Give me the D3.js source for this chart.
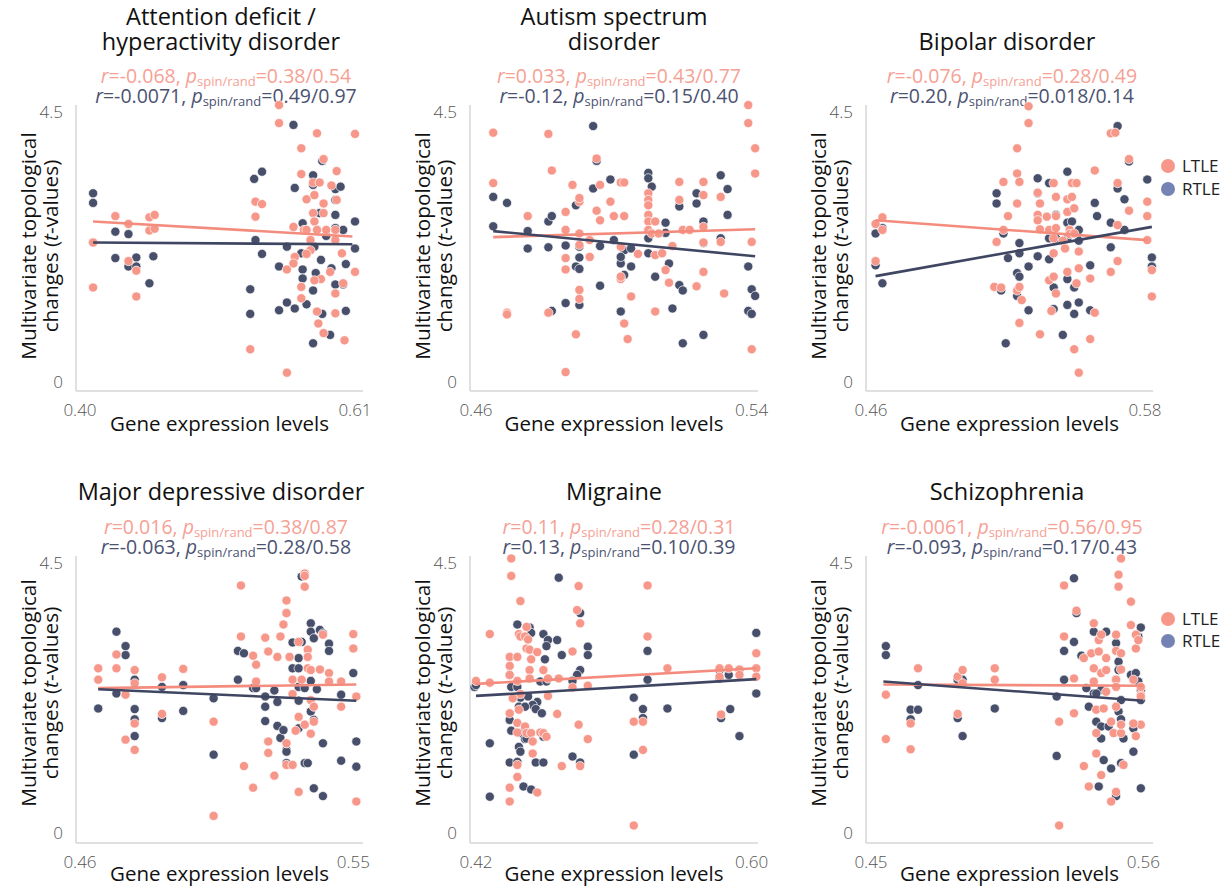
<!DOCTYPE html>
<html><head><meta charset="utf-8">
<script src="https://cdn.jsdelivr.net/npm/d3@7"></script>
<style>
body{margin:0;background:#fff}
svg{display:block}
text{font-family:'Open Sans','Noto Sans',sans-serif}
</style>
</head><body>
<svg id="chart" width="1228" height="888"></svg>
<script>
// ---------------- DATA ----------------
const titles = [
  ["Attention deficit /", "hyperactivity disorder"],
  ["Autism spectrum", "disorder"],
  ["Bipolar disorder"],
  ["Major depressive disorder"],
  ["Migraine"],
  ["Schizophrenia"]
];
const xTickLabels = [["0.40","0.61"],["0.46","0.54"],["0.46","0.58"],["0.46","0.55"],["0.42","0.60"],["0.45","0.56"]];
const xTickValues = [[0.40,0.61],[0.46,0.54],[0.46,0.58],[0.46,0.55],[0.42,0.60],[0.45,0.56]];
const yTickValues = [0, 4.5];
const yTickLabels = ["0", "4.5"];
const seriesNames = ["LTLE", "RTLE"];

const rLTLE = ["-0.068", "0.033", "-0.076", "0.016", "0.11", "-0.0061"];
const pLTLE = ["0.38/0.54", "0.43/0.77", "0.28/0.49", "0.38/0.87", "0.28/0.31", "0.56/0.95"];
const rRTLE = ["-0.0071", "-0.12", "0.20", "-0.063", "0.13", "-0.093"];
const pRTLE = ["0.49/0.97", "0.15/0.40", "0.018/0.14", "0.28/0.58", "0.10/0.39", "0.17/0.43"];

// fitted regression lines [x0,y0],[x1,y1]
const fitLTLE = [
  [[0.410,2.67],[0.608,2.42]],
  [[0.465,2.41],[0.541,2.54]],
  [[0.462,2.69],[0.581,2.36]],
  [[0.466,2.42],[0.551,2.48]],
  [[0.420,2.49],[0.603,2.75]],
  [[0.455,2.48],[0.560,2.46]]
];
const fitRTLE = [
  [[0.410,2.32],[0.608,2.29]],
  [[0.465,2.51],[0.541,2.09]],
  [[0.462,1.76],[0.583,2.58]],
  [[0.466,2.40],[0.551,2.21]],
  [[0.420,2.29],[0.603,2.57]],
  [[0.455,2.53],[0.560,2.21]]
];

const adhdLTLE = [[0.410,2.32],[0.410,1.57],[0.427,2.76],[0.437,2.63],[0.437,2.01],[0.443,1.85],[0.443,1.42],[0.453,2.74],[0.457,2.78],[0.453,2.52],[0.457,2.55],
[0.552,4.61],[0.552,4.31],[0.569,3.89],[0.581,4.14],[0.586,3.71],[0.596,3.51],[0.610,4.13],[0.534,3.00],[0.539,2.96],[0.534,2.75],[0.569,3.46],[0.573,3.04],[0.578,3.32],[0.583,3.32],[0.579,3.11],[0.586,2.97],[0.586,2.81],[0.592,3.27],[0.596,3.03],[0.578,2.81],[0.579,2.67],[0.571,2.53],[0.573,2.53],[0.581,2.53],[0.563,2.58],[0.588,2.53],[0.595,2.53],[0.564,2.08],[0.563,1.97],[0.569,1.58],[0.569,1.39],[0.576,2.19],[0.573,2.13],[0.584,1.71],[0.591,1.83],[0.600,2.14],[0.610,1.83],[0.601,1.64],[0.595,1.47],[0.581,1.17],[0.595,1.14],[0.582,0.97],[0.586,0.81],[0.602,0.69],[0.530,0.54],[0.558,0.15],[0.558,1.87],[0.579,1.69],[0.576,2.36],[0.595,2.36]];
const adhdRTLE = [[0.410,3.14],[0.410,2.98],[0.427,2.50],[0.437,2.46],[0.427,2.06],[0.437,1.92],[0.443,2.07],[0.443,1.92],[0.456,2.09],[0.453,1.64],[0.410,2.32],
[0.533,3.38],[0.539,3.50],[0.534,2.36],[0.539,2.13],[0.530,1.54],[0.530,1.13],[0.552,1.92],[0.564,3.23],[0.563,4.28],[0.552,1.19],[0.558,1.32],[0.564,1.22],[0.570,2.64],[0.573,1.29],[0.569,2.14],[0.570,1.87],[0.570,1.72],[0.578,3.44],[0.578,3.28],[0.579,2.25],[0.578,1.52],[0.578,0.64],[0.584,2.03],[0.580,1.81],[0.585,3.68],[0.591,0.78],[0.592,1.89],[0.595,3.21],[0.599,3.25],[0.595,3.03],[0.595,2.78],[0.595,2.56],[0.601,2.53],[0.603,1.96],[0.603,1.18],[0.610,2.67],[0.610,2.22],[0.601,1.62],[0.595,1.62],[0.558,2.25],[0.585,1.13],[0.588,2.43],[0.581,2.53],[0.583,2.81]];

const asdLTLE = [[0.465,4.15],[0.465,3.31],[0.469,1.15],[0.469,1.12],[0.475,2.76],[0.481,4.13],[0.482,3.52],[0.481,1.15],[0.486,2.83],[0.486,2.53],[0.486,2.06],[0.486,1.87],[0.488,3.28],[0.490,3.00],[0.490,3.06],[0.490,2.47],[0.490,2.28],[0.490,1.53],[0.490,1.38],[0.489,0.79],[0.486,0.16],[0.493,2.36],[0.495,3.72],[0.495,2.85],[0.496,2.69],[0.496,3.28],[0.493,2.08],[0.499,3.00],[0.500,2.76],[0.502,3.32],[0.503,3.32],[0.503,2.76],[0.502,2.25],[0.502,1.71],[0.502,1.75],[0.503,0.97],[0.504,0.71],[0.505,1.42],[0.507,2.13],[0.510,3.14],[0.510,3.03],[0.510,2.94],[0.510,2.78],[0.510,2.67],[0.510,2.53],[0.511,2.47],[0.512,2.67],[0.512,2.11],[0.512,1.17],[0.513,2.47],[0.514,2.14],[0.515,1.86],[0.516,1.65],[0.517,2.26],[0.519,3.33],[0.519,3.03],[0.520,2.53],[0.522,2.53],[0.524,1.59],[0.526,3.33],[0.526,3.11],[0.526,2.58],[0.526,2.32],[0.526,1.83],[0.531,3.08],[0.531,2.33],[0.532,1.47],[0.539,4.61],[0.539,4.31],[0.541,3.89],[0.541,3.47],[0.540,2.33],[0.540,0.54]];
const asdRTLE = [[0.465,3.08],[0.465,2.59],[0.469,2.98],[0.475,2.51],[0.475,2.22],[0.481,2.67],[0.482,2.76],[0.481,2.24],[0.482,1.18],[0.486,2.27],[0.486,1.31],[0.489,2.94],[0.490,2.25],[0.490,2.07],[0.489,1.92],[0.490,1.88],[0.490,1.28],[0.494,3.22],[0.494,4.26],[0.495,3.68],[0.496,2.26],[0.496,1.60],[0.499,3.37],[0.500,2.36],[0.502,1.17],[0.502,1.97],[0.503,2.19],[0.502,2.08],[0.503,1.78],[0.505,2.22],[0.505,1.92],[0.510,3.48],[0.510,3.39],[0.511,3.25],[0.510,2.39],[0.510,2.14],[0.512,1.75],[0.515,2.65],[0.515,2.48],[0.516,1.97],[0.519,2.92],[0.519,1.61],[0.520,1.52],[0.517,1.22],[0.520,0.64],[0.524,3.14],[0.524,2.97],[0.526,2.67],[0.526,0.78],[0.526,2.31],[0.531,3.44],[0.531,2.39],[0.533,3.21],[0.533,2.78],[0.539,1.92],[0.540,1.54],[0.541,1.43],[0.539,1.18],[0.540,1.13]];

const bpLTLE = [[0.462,2.63],[0.465,2.74],[0.465,2.53],[0.462,2.01],[0.529,4.59],[0.529,4.31],[0.524,3.89],[0.524,3.47],[0.525,3.33],[0.518,3.33],[0.520,2.76],[0.524,2.97],[0.518,2.53],[0.515,2.33],[0.514,1.58],[0.517,1.57],[0.524,1.52],[0.525,1.58],[0.526,1.36],[0.525,0.98],[0.534,0.79],[0.533,3.15],[0.534,2.97],[0.533,2.78],[0.533,2.69],[0.534,2.54],[0.537,2.75],[0.538,2.53],[0.540,3.31],[0.541,3.08],[0.541,2.76],[0.541,2.56],[0.540,2.39],[0.540,2.14],[0.538,1.69],[0.540,1.75],[0.541,1.47],[0.539,1.18],[0.546,3.04],[0.546,2.83],[0.548,3.31],[0.548,3.08],[0.549,2.89],[0.547,2.53],[0.547,2.46],[0.544,2.35],[0.545,2.22],[0.546,1.83],[0.550,3.31],[0.549,2.47],[0.551,2.17],[0.551,1.89],[0.550,1.64],[0.549,0.54],[0.551,0.15],[0.556,1.72],[0.556,0.71],[0.558,3.52],[0.558,1.15],[0.565,4.14],[0.567,4.15],[0.568,3.31],[0.573,3.71],[0.573,2.85],[0.565,1.83],[0.568,2.01],[0.568,2.61],[0.581,3.00],[0.581,2.76],[0.581,2.36],[0.583,1.86],[0.583,1.42]];
const bpRTLE = [[0.462,2.47],[0.465,2.56],[0.462,1.94],[0.465,1.64],[0.515,3.14],[0.515,2.97],[0.518,2.47],[0.520,2.06],[0.524,1.81],[0.525,2.31],[0.525,1.75],[0.524,1.43],[0.525,2.14],[0.529,1.92],[0.517,1.52],[0.529,1.19],[0.519,0.64],[0.533,3.39],[0.533,3.14],[0.538,3.31],[0.541,2.78],[0.538,2.39],[0.541,2.39],[0.533,2.09],[0.538,2.04],[0.540,1.57],[0.540,1.21],[0.546,3.50],[0.546,2.65],[0.546,2.39],[0.548,2.67],[0.551,2.53],[0.546,1.71],[0.549,1.57],[0.551,2.35],[0.546,1.28],[0.549,1.13],[0.551,1.32],[0.544,0.78],[0.556,1.94],[0.556,1.19],[0.558,2.98],[0.559,2.76],[0.565,2.65],[0.565,2.24],[0.568,3.22],[0.571,3.04],[0.571,2.53],[0.568,4.26],[0.573,3.67],[0.581,3.37],[0.583,2.07],[0.583,1.92]];

const mddLTLE = [[0.466,2.75],[0.466,2.56],[0.472,2.98],[0.472,2.75],[0.478,2.72],[0.478,2.50],[0.475,2.31],[0.475,1.56],[0.478,1.83],[0.478,1.39],[0.487,2.60],[0.487,1.99],[0.494,2.74],[0.504,1.86],[0.504,0.29],[0.513,4.13],[0.513,3.28],[0.514,1.12],[0.517,0.76],[0.517,2.96],[0.518,2.81],[0.518,2.53],[0.521,3.26],[0.522,3.03],[0.522,1.53],[0.522,1.34],[0.525,2.94],[0.526,3.28],[0.527,3.48],[0.528,3.67],[0.528,3.88],[0.528,1.50],[0.529,2.94],[0.530,2.56],[0.530,2.32],[0.531,1.71],[0.532,3.19],[0.532,0.69],[0.532,1.94],[0.534,4.33],[0.534,4.11],[0.534,4.29],[0.535,3.06],[0.535,2.94],[0.533,2.56],[0.535,2.75],[0.534,1.81],[0.536,1.66],[0.536,2.22],[0.536,2.72],[0.537,1.86],[0.537,2.11],[0.539,2.73],[0.540,3.31],[0.542,2.67],[0.546,2.53],[0.546,2.11],[0.550,3.32],[0.550,3.08],[0.551,2.28],[0.551,0.53],[0.542,2.53],[0.524,0.96],[0.528,1.14],[0.530,1.14]];
const mddRTLE = [[0.466,2.08],[0.472,3.36],[0.475,3.12],[0.475,2.97],[0.472,2.33],[0.478,2.56],[0.478,2.07],[0.478,1.90],[0.478,1.62],[0.487,2.44],[0.487,1.92],[0.494,2.04],[0.494,2.47],[0.504,2.25],[0.504,1.31],
[0.512,3.04],[0.514,3.00],[0.512,2.56],[0.517,2.42],[0.518,2.42],[0.521,2.28],[0.521,2.11],[0.521,1.87],[0.525,2.19],[0.525,1.79],[0.526,1.59],[0.527,1.72],[0.528,1.39],[0.528,1.36],[0.528,1.17],[0.528,3.67],[0.530,3.18],[0.530,2.75],[0.532,2.75],[0.533,3.19],[0.532,2.92],[0.532,2.44],[0.532,2.21],[0.532,1.75],[0.533,4.28],[0.534,1.17],[0.535,1.17],[0.536,3.50],[0.536,3.36],[0.537,3.25],[0.539,3.39],[0.540,3.33],[0.538,2.40],[0.534,2.42],[0.536,2.54],[0.536,2.03],[0.537,1.89],[0.542,3.16],[0.542,3.04],[0.540,1.50],[0.537,0.75],[0.540,0.62],[0.546,2.31],[0.546,1.21],[0.550,2.67],[0.551,1.53],[0.551,1.11],[0.524,2.38]];

const migLTLE = [[0.443,4.58],[0.443,4.29],[0.449,3.87],[0.429,3.32],[0.420,2.54],[0.429,2.51],[0.442,2.94],[0.442,2.79],[0.447,2.94],[0.448,3.32],[0.449,3.28],[0.452,3.28],[0.453,3.44],[0.453,3.08],[0.454,3.23],[0.455,3.06],[0.456,2.90],[0.455,2.72],[0.455,2.58],[0.460,3.02],[0.464,2.72],[0.467,2.58],[0.474,2.58],[0.442,2.64],[0.447,2.54],[0.449,2.32],[0.444,2.25],[0.442,2.00],[0.448,2.06],[0.447,1.84],[0.447,1.68],[0.452,1.78],[0.453,1.67],[0.456,1.67],[0.457,1.53],[0.457,1.33],[0.462,1.68],[0.464,1.67],[0.466,1.61],[0.467,2.29],[0.473,1.99],[0.447,1.14],[0.447,0.94],[0.442,0.76],[0.442,0.53],[0.460,0.68],[0.476,1.12],[0.483,3.03],[0.487,4.12],[0.486,3.72],[0.488,3.50],[0.488,1.12],[0.487,1.81],[0.493,2.46],[0.493,1.57],[0.483,2.43],[0.523,0.13],[0.523,1.86],[0.529,1.86],[0.529,1.39],[0.532,4.13],[0.532,3.28],[0.545,2.75],[0.579,2.75],[0.579,2.61],[0.580,1.98],[0.585,2.75],[0.592,2.73],[0.592,2.64],[0.603,3.00],[0.603,2.75],[0.603,2.61]];
const migRTLE = [[0.474,4.26],[0.447,3.48],[0.455,3.43],[0.456,3.34],[0.464,3.32],[0.467,3.22],[0.473,3.22],[0.476,2.97],[0.493,3.11],[0.493,2.97],[0.488,2.72],[0.486,2.64],[0.483,2.54],[0.466,3.12],[0.465,2.90],[0.462,2.53],[0.466,2.53],[0.442,2.64],[0.443,2.44],[0.447,2.44],[0.449,2.26],[0.454,2.28],[0.460,2.19],[0.457,2.14],[0.448,2.11],[0.452,2.11],[0.459,2.07],[0.463,2.00],[0.442,1.89],[0.443,1.71],[0.449,1.67],[0.452,1.57],[0.464,1.61],[0.448,1.44],[0.453,1.58],[0.449,1.36],[0.442,1.18],[0.447,1.19],[0.459,1.18],[0.464,1.18],[0.483,1.28],[0.488,1.18],[0.429,1.50],[0.429,0.61],[0.451,0.78],[0.456,0.73],[0.419,2.44],[0.420,2.47],[0.523,2.26],[0.523,1.31],[0.529,2.07],[0.529,1.92],[0.532,3.04],[0.532,2.56],[0.545,2.08],[0.579,2.72],[0.579,2.58],[0.580,1.92],[0.585,2.64],[0.586,2.07],[0.592,2.72],[0.592,1.62],[0.603,3.34],[0.603,2.33],[0.488,3.67]];

const scLTLE = [[0.456,2.31],[0.456,1.57],[0.466,1.83],[0.466,1.40],[0.469,2.75],[0.485,2.61],[0.487,2.72],[0.485,1.99],[0.500,2.75],[0.500,2.56],[0.487,2.50],
[0.528,4.13],[0.528,3.28],[0.526,1.86],[0.526,0.13],[0.532,2.58],[0.532,2.00],[0.533,3.71],[0.536,2.92],[0.536,1.12],[0.538,0.78],[0.539,3.00],[0.540,3.50],[0.540,2.75],[0.540,2.53],[0.541,2.06],[0.541,1.67],[0.541,1.33],[0.542,3.03],[0.542,3.22],[0.543,0.97],[0.543,3.31],[0.543,2.67],[0.544,2.08],[0.545,2.92],[0.545,2.72],[0.545,2.36],[0.547,0.53],[0.547,1.86],[0.548,1.67],[0.549,3.31],[0.549,3.04],[0.549,2.56],[0.549,2.44],[0.549,2.11],[0.549,0.69],[0.550,4.11],[0.550,4.31],[0.551,4.58],[0.551,3.00],[0.551,2.73],[0.551,1.67],[0.551,1.81],[0.552,1.14],[0.555,3.86],[0.555,3.47],[0.556,2.56],[0.557,3.31],[0.557,3.08],[0.558,3.22],[0.559,2.31],[0.559,1.81],[0.557,1.62],[0.556,1.83],[0.559,2.28],[0.559,2.44]];
const scRTLE = [[0.456,3.12],[0.456,2.97],[0.466,2.06],[0.469,2.06],[0.466,1.90],[0.469,2.47],[0.485,1.92],[0.487,1.62],[0.487,2.56],[0.500,2.08],[0.485,2.56],
[0.532,4.25],[0.533,3.67],[0.532,3.19],[0.528,3.04],[0.528,2.56],[0.525,2.28],[0.525,1.29],[0.535,2.96],[0.537,2.42],[0.538,2.11],[0.540,3.36],[0.540,2.33],[0.541,1.86],[0.543,1.78],[0.543,2.39],[0.543,1.58],[0.544,1.22],[0.545,3.36],[0.546,1.78],[0.547,1.08],[0.549,3.17],[0.549,2.56],[0.550,2.03],[0.550,2.86],[0.550,2.72],[0.551,2.22],[0.551,1.90],[0.552,1.58],[0.551,1.17],[0.549,0.62],[0.542,0.78],[0.555,2.64],[0.556,1.75],[0.556,1.36],[0.557,2.67],[0.558,3.28],[0.558,2.53],[0.559,3.43],[0.559,2.39],[0.559,0.75],[0.559,2.22],[0.541,2.33]];

const pointsLTLE = [adhdLTLE, asdLTLE, bpLTLE, mddLTLE, migLTLE, scLTLE];
const pointsRTLE = [adhdRTLE, asdRTLE, bpRTLE, mddRTLE, migRTLE, scRTLE];

// ---------------- LAYOUT / STYLE ----------------
const colL = "#F7978A", colR = "#474F6B";
const lineL = "#F48C7E", lineR = "#3F4662";
const txtL = "#F6A195", txtR = "#4B5272";
const legR = "#7483B4";

const axisLeft = [76, 470, 866];
const axisRight = [363, 758, 1153];
const xRanges = [[80,355],[476,751.7],[871,1145],[80,353.3],[476,751.7],[871,1143.3]];
const rows = [
  {yr:[381.7,111.7], top:105, bottom:391, t1:17, t2:42, s1:76, s2:96, xt:410, xl:424, yl:246, leg:[166,189]},
  {yr:[833.3,563.3], top:556, bottom:843, t1:492, t2:492, s1:527, s2:547, xt:862, xl:874, yl:693, leg:[619,641]}
];
const colCenters = [221, 614, 1007];

const svg = d3.select("#chart");

function statText(g, x, y, r, p, color) {
  const t = g.append("text").attr("x", x).attr("y", y).attr("dy","0.35em")
    .attr("text-anchor","middle").attr("fill", color).style("font-size","19.5px");
  t.append("tspan").style("font-style","italic").text("r");
  t.append("tspan").text("=" + r + ", ");
  t.append("tspan").style("font-style","italic").text("p");
  t.append("tspan").attr("dy","3.5").style("font-size","13px").text("spin/rand");
  t.append("tspan").attr("dy","-3.5").text("=" + p);
}

for (let i = 0; i < 6; i++) {
  const col = i % 3, row = rows[Math.floor(i / 3)];
  const g = svg.append("g");
  const x = d3.scaleLinear().domain(xTickValues[i]).range(xRanges[i]);
  const y = d3.scaleLinear().domain([0, 4.5]).range(row.yr);
  const aL = axisLeft[col], aR = axisRight[col];

  // axes lines
  g.append("line").attr("x1", aL).attr("x2", aL).attr("y1", row.top).attr("y2", row.bottom)
    .attr("stroke", "#d6d6d6").attr("stroke-width", 1.5);
  g.append("line").attr("x1", aL).attr("x2", aR).attr("y1", row.bottom).attr("y2", row.bottom)
    .attr("stroke", "#d6d6d6").attr("stroke-width", 1.5);

  // y tick labels
  yTickValues.forEach((v, k) => {
    g.append("text").attr("x", aL - 13).attr("y", y(v)).attr("dy", "0.35em")
      .attr("text-anchor", "end").attr("fill", "#555").style("font-size", "17px").style("font-weight","300")
      .text(yTickLabels[k]);
  });
  // x tick labels
  xTickValues[i].forEach((v, k) => {
    g.append("text").attr("x", x(v)).attr("y", row.xt).attr("dy", "0.35em")
      .attr("text-anchor", "middle").attr("fill", "#555").style("font-size", "17px").style("font-weight","300")
      .text(xTickLabels[i][k]);
  });

  // titles
  const tl = titles[i];
  const tpos = tl.length === 2 ? [row.t1, row.t2] : [row.t2];
  tl.forEach((s, k) => {
    g.append("text").attr("x", colCenters[col]).attr("y", tpos[k]).attr("dy","0.35em").attr("text-anchor","middle")
      .attr("fill","#111").style("font-size","23.5px").style("font-weight","500").text(s);
  });

  statText(g, colCenters[col] + 5, row.s1, rLTLE[i], pLTLE[i], txtL);
  statText(g, colCenters[col] + 5, row.s2, rRTLE[i], pRTLE[i], txtR);

  // axis titles
  const xc = (aL + aR) / 2;
  g.append("text").attr("x", xc).attr("y", row.xl).attr("dy","0.35em").attr("text-anchor","middle")
    .attr("fill","#111").style("font-size","20.5px").style("font-weight","500").text("Gene expression levels");
  g.append("text").attr("transform", `translate(${aL - 47},${row.yl}) rotate(-90)`)
    .attr("dy","0.35em").attr("text-anchor","middle").attr("fill","#111").style("font-size","20.8px").style("font-weight","500")
    .text("Multivariate topological");
  const yt2 = g.append("text").attr("transform", `translate(${aL - 25},${row.yl}) rotate(-90)`)
    .attr("dy","0.35em").attr("text-anchor","middle").attr("fill","#111").style("font-size","20.8px").style("font-weight","500");
  yt2.append("tspan").text("changes (");
  yt2.append("tspan").style("font-style","italic").text("t");
  yt2.append("tspan").text("-values)");

  // points
  g.append("g").selectAll("circle").data(pointsRTLE[i]).join("circle")
    .attr("cx", d => x(d[0])).attr("cy", d => y(d[1])).attr("r", 4.6)
    .attr("fill", colR).attr("stroke", "#fff").attr("stroke-width", 0.7);
  g.append("g").selectAll("circle").data(pointsLTLE[i]).join("circle")
    .attr("cx", d => x(d[0])).attr("cy", d => y(d[1])).attr("r", 4.6)
    .attr("fill", colL).attr("stroke", "#fff").attr("stroke-width", 0.7);

  // regression lines
  const ln = d3.line().x(d => x(d[0])).y(d => y(d[1]));
  g.append("path").attr("d", ln(fitLTLE[i])).attr("stroke", lineL).attr("stroke-width", 2.6).attr("fill","none");
  g.append("path").attr("d", ln(fitRTLE[i])).attr("stroke", lineR).attr("stroke-width", 2.6).attr("fill","none");

  // legend on right column
  if (col === 2) {
    [colL, legR].forEach((c, k) => {
      g.append("circle").attr("cx", 1168).attr("cy", row.leg[k]).attr("r", 7).attr("fill", c);
      g.append("text").attr("x", 1182).attr("y", row.leg[k]).attr("dy","0.35em").attr("fill","#222")
        .style("font-size","17px").text(seriesNames[k]);
    });
  }
}
</script>
</body></html>
